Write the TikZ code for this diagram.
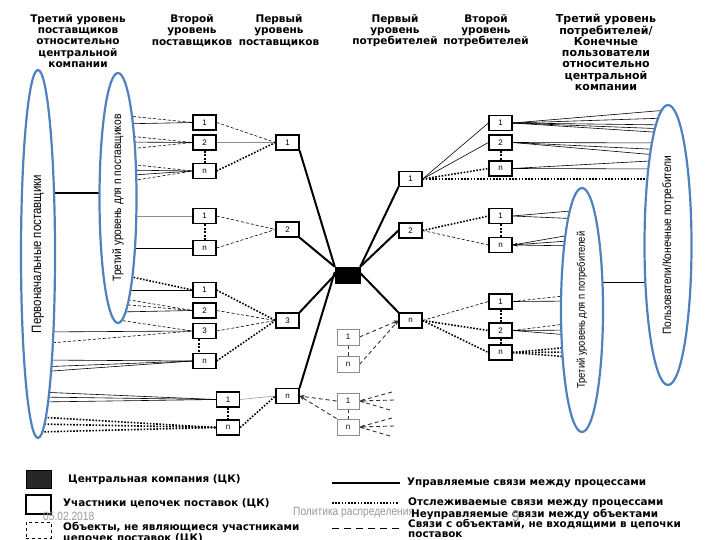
\documentclass[tikz,border=0pt]{standalone}
\usepackage{fontspec}
\setmainfont{Liberation Sans}
\newfontfamily\hdrfont{DejaVu Sans}
\newfontfamily\narrowfont[FakeStretch=0.85]{Liberation Sans}
\usetikzlibrary{shapes.geometric,arrows.meta,backgrounds}
\definecolor{ellblue}{RGB}{79,129,189}
\begin{document}
\begin{tikzpicture}[x=1pt,y=-1pt,
  bx/.style={draw, line width=1.2pt, fill=white, minimum width=23pt, minimum height=15pt, inner sep=0pt, font=\fontsize{8}{9}\selectfont},
  gbx/.style={draw=black!45, line width=0.9pt, fill=white, minimum width=22pt, minimum height=16pt, inner sep=0pt, font=\fontsize{8}{9}\selectfont},
  ell/.style={ellipse, draw=ellblue, line width=2.2pt, fill=white, inner sep=0pt, rotate=90},
  hdr/.style={font=\hdrfont\bfseries\fontsize{10.5}{11.3}\selectfont, align=center, inner sep=0pt},
  leg/.style={font=\hdrfont\bfseries\fontsize{10.4}{11}\selectfont, anchor=west, inner sep=0pt, align=left},
  foot/.style={font=\narrowfont\fontsize{12}{13}\selectfont, text=black!40, anchor=west, inner sep=0pt},
  ctl/.style={line width=2pt},
  sol/.style={line width=0.6pt},
  gsol/.style={line width=0.5pt, draw=black!45},
  dsh/.style={line width=0.6pt, dash pattern=on 3pt off 2pt},
  dtt/.style={line width=1.6pt, dash pattern=on 1.6pt off 1.6pt},
  vdt/.style={line width=2pt, dash pattern=on 2pt off 1.5pt},
  gdsh/.style={line width=0.9pt, dash pattern=on 4pt off 3pt, draw=black!80},
  tip/.style={-{Stealth[length=5pt,width=4pt]}}
]
\useasboundingbox (0,0) rectangle (720,540);

% headers
\node[hdr] (h1) at (78,41) {Третий уровень\\поставщиков\\относительно\\центральной\\компании};
\node[hdr] (h2) at (192,30.5) {Второй\\уровень\\поставщиков};
\node[hdr] (h3) at (279,30.5) {Первый\\уровень\\поставщиков};
\node[hdr] (h4) at (395,30.5) {Первый\\уровень\\потребителей};
\node[hdr] (h5) at (486,30.5) {Второй\\уровень\\потребителей};
\node[hdr, font=\hdrfont\bfseries\fontsize{11}{11.3}\selectfont] (h6) at (606,52.5) {Третий уровень\\потребителей/\\Конечные\\пользователи\\относительно\\центральной\\компании};

% ellipses
\node[ell, minimum width=368pt, minimum height=34pt, font=\narrowfont\fontsize{13.5}{14}\selectfont] (E1) at (38,254) {Первоначальные поставщики};
\node[ell, minimum width=250pt, minimum height=37pt, font=\narrowfont\fontsize{12}{13}\selectfont] (E2) at (118,198) {Третий уровень для n поставщиков};
\node[ell, minimum width=244pt, minimum height=42pt, font=\narrowfont\fontsize{11}{12}\selectfont] (E3) at (582,310) {Третий уровень для n потребителей};
\node[ell, minimum width=280pt, minimum height=47pt, font=\narrowfont\fontsize{12}{13}\selectfont] (E4) at (668,245) {Пользователи/Конечные потребители};

% left boxes
\node[bx] (L1a) at (204.5,122.5) {1};
\node[bx] (L2a) at (204.5,142.5) {2};
\node[bx] (Lna) at (204.5,171) {n};
\node[bx] (L1b) at (204.5,216) {1};
\node[bx] (Lnb) at (204.5,248) {n};
\node[bx] (L1c) at (204.5,290) {1};
\node[bx] (L2c) at (204.5,310.5) {2};
\node[bx] (L3c) at (204.5,331) {3};
\node[bx] (Lnc) at (204.5,361) {n};
\node[bx] (L1d) at (228,399.5) {1};
\node[bx] (Lnd) at (228,427.5) {n};
% first level suppliers
\node[bx] (S1) at (287.5,142.5) {1};
\node[bx] (S2) at (287.5,229.5) {2};
\node[bx] (S3) at (287.5,320.5) {3};
\node[bx] (Sn) at (287.5,396) {n};
% central
\node[draw, fill=black, minimum width=25pt, minimum height=16pt, inner sep=0pt] (C) at (347.5,275) {};
% first level consumers
\node[bx] (R1) at (410.5,179) {1};
\node[bx] (R2) at (410.5,230.5) {2};
\node[bx] (Rn) at (410.5,320.5) {n};
% second level consumers
\node[bx] (Q1a) at (500.5,123) {1};
\node[bx] (Q2a) at (500.5,142.5) {2};
\node[bx] (Qna) at (500.5,168.5) {n};
\node[bx] (Q1b) at (500.5,216) {1};
\node[bx] (Qnb) at (500.5,245) {n};
\node[bx] (Q1c) at (500.5,301.5) {1};
\node[bx] (Q2c) at (500.5,330.5) {2};
\node[bx] (Qnc) at (500.5,352.5) {n};
% non-participants
\node[gbx] (G1) at (348,337) {1};
\node[gbx] (Gn) at (348,364.5) {n};
\node[gbx] (G2a) at (348,401) {1};
\node[gbx] (G2n) at (348,427) {n};
\coordinate (fa1) at (392,392);
\coordinate (fa2) at (394,400);
\coordinate (fa3) at (390,410);
\coordinate (fn1) at (392,418);
\coordinate (fn2) at (394,426);
\coordinate (fn3) at (390,436);

% legend
\node[draw, fill=black!85, minimum width=25pt, minimum height=18pt, inner sep=0pt] (lgC) at (38.5,479) {};
\node[leg] (lgCt) at (68,480) {Центральная компания (ЦК)};
\node[draw, line width=1.2pt, fill=white, minimum width=25pt, minimum height=19pt, inner sep=0pt] (lgP) at (38.5,504.5) {};
\node[leg] (lgPt) at (63,503) {Участники цепочек поставок (ЦК)};
\node[draw, line width=0.9pt, dash pattern=on 3pt off 3pt, minimum width=25pt, minimum height=16pt, inner sep=0pt] (lgO) at (38.5,530) {};
\node[leg, anchor=north west] (lgOt) at (63,522) {Объекты, не являющиеся участниками\\цепочек поставок (ЦК)};
\coordinate (ls1) at (332,483); \coordinate (ls2) at (400,483);
\coordinate (ld1) at (332,503); \coordinate (ld2) at (398,503);
\coordinate (lq1) at (332,528); \coordinate (lq2) at (400,528);
\node[foot] (ft1) at (43,516) {05.02.2018};
\node[foot] (ft2) at (293,513) {Политика распределения};
\node[leg] (lgSt) at (407,483) {Управляемые связи между процессами};
\node[leg] (lgDt) at (408,503) {Отслеживаемые связи между процессами};
\node[leg] (lgUt) at (411,514) {Неуправляемые связи между объектами};
\node[leg, anchor=north west, font=\hdrfont\bfseries\fontsize{10.4}{10.3}\selectfont] (lgQt) at (408,519) {Связи с объектами, не входящими в цепочки\\поставок};
\node[font=\narrowfont\fontsize{16}{16}\selectfont, text=black!45, inner sep=0pt] (pg) at (516,516) {9};
\draw[ctl] (ls1) -- (ls2);
\draw[dtt, line width=1.3pt] (ld1) -- (ld2);
\draw[line width=1pt, dash pattern=on 7pt off 5pt] (lq1) -- (lq2);

\begin{pgfonlayer}{background}
% ellipse interconnections
\draw[line width=1.5pt] (E1.center |- 0,193) -- (E2.center |- 0,193);
\draw[sol] (E3.center |- 0,282) -- (E4.center |- 0,282);
% group 1
\draw[dsh] (118,115) -- (L1a.west);
\draw[sol] (118,124) -- (L1a.west);
\draw[dsh] (118,135) -- (L2a.west);
\draw[sol] (118,142) -- (L2a.west);
\draw[dsh] (118,150) -- (L2a.west);
\draw[dsh] (118,163) -- (Lna.west);
\draw[sol] (118,170) -- (Lna.west);
\draw[sol] (118,176) -- (Lna.west);
\draw[dsh] (118,183) -- (Lna.west);
\draw[dsh] (L1a.east) -- (S1.west);
\draw[gsol] (L2a.east) -- (S1.west);
\draw[dtt] (Lna.east) -- (S1.west);
\draw[vdt] (L2a.south) -- (Lna.north);
% group 2
\draw[gsol] (118,216) -- (L1b.west);
\draw[sol] (118,248) -- (Lnb.west);
\draw[dsh] (L1b.east) -- (S2.west);
\draw[dsh] (Lnb.east) -- (S2.west);
\draw[vdt] (L1b.south) -- (Lnb.north);
% group 3
\draw[dtt] (118,274) -- (L1c.west);
\draw[sol] (118,290) -- (L1c.west);
\draw[dsh] (118,298) -- (L2c.west);
\draw[dsh] (118,304) -- (L2c.west);
\draw[sol] (118,312) -- (L2c.west);
\draw[dsh] (118,320) -- (L3c.west);
\draw[sol] (38,332) -- (L3c.west);
\draw[dsh] (38,344) -- (L3c.west);
\draw[sol] (38,360) -- (Lnc.west);
\draw[sol] (38,367) -- (Lnc.west);
\draw[sol] (38,372) -- (Lnc.west);
\draw[dtt] (L1c.east) -- (S3.west);
\draw[dsh] (L2c.east) -- (S3.west);
\draw[dsh] (L3c.east) -- (S3.west);
\draw[dtt] (Lnc.east) -- (S3.west);
\draw[vdt] ([xshift=-6pt]L3c.south) -- ([xshift=-6pt]Lnc.north);
% group 4
\draw[sol] (38,392) -- (L1d.west);
\draw[sol] (38,397) -- (L1d.west);
\draw[sol] (38,402) -- (L1d.west);
\draw[dtt] (38,417) -- (Lnd.west);
\draw[dtt] (38,424) -- (Lnd.west);
\draw[dtt] (38,432) -- (Lnd.west);
\draw[gsol] (L1d.east) -- (Sn.west);
\draw[dtt] (Lnd.east) -- (Sn.west);
\draw[vdt] (L1d.south) -- (Lnd.north);
% central links
\draw[ctl] (S1.south east) -- (C.north west);
\draw[ctl] (S2.south east) -- (C.north west);
\draw[ctl] (S3.north east) -- (C.west);
\draw[ctl] (Sn.north east) -- ([yshift=3pt]C.west);
\draw[ctl] (R1.south west) -- (C.north east);
\draw[ctl] (R2.west) -- (C.north east);
\draw[ctl] (Rn.north west) -- ([yshift=2pt]C.east);
% right group 1
\draw[sol] (R1.east) -- (Q1a.west);
\draw[sol] (R1.east) -- (Q2a.west);
\draw[dtt] (R1.east) -- (Qna.west);
\draw[dtt] (R1.east) -- (E4.center |- R1.east);
\draw[vdt] (Q2a.south) -- (Qna.north);
\draw[sol] (Q1a.east) -- (668,110);
\draw[sol] (Q1a.east) -- (668,118);
\draw[sol] (Q1a.east) -- (668,125);
\draw[sol] (Q1a.east) -- (668,129);
\draw[sol] (Q1a.east) -- (668,133);
\draw[sol] (Q2a.east) -- (668,143);
\draw[sol] (Q2a.east) -- (668,150);
\draw[sol] (Q2a.east) -- (668,156);
\draw[sol] (Qna.east) -- (668,160);
\draw[sol] (Qna.east) -- (668,169);
% right group 2
\draw[dtt] (R2.east) -- (Q1b.west);
\draw[dsh] (R2.east) -- (Qnb.west);
\draw[vdt] (Q1b.south) -- (Qnb.north);
\draw[sol] (Q1b.east) -- (582,210);
\draw[sol] (Q1b.east) -- (582,219);
\draw[sol] (582,233) -- (Qnb.east);
\draw[sol, tip] (582,240) -- (Qnb.east);
\draw[sol] (582,246) -- (Qnb.east);
% right group 3
\draw[dsh] (Rn.east) -- (Q1c.west);
\draw[dtt] (Rn.east) -- (Q2c.west);
\draw[dtt] (Rn.east) -- (Qnc.west);
\draw[vdt] (Q1c.south) -- (Q2c.north);
\draw[vdt] (Q2c.south) -- (Qnc.north);
\draw[dsh] (Q1c.east) -- (582,294);
\draw[sol] (Q1c.east) -- (582,301);
\draw[dsh] (Q2c.east) -- (582,322);
\draw[sol] (Q2c.east) -- (582,330);
\draw[sol] (Q2c.east) -- (582,336);
\draw[dtt] (Qnc.east) -- (582,346);
\draw[dtt] (Qnc.east) -- (582,352);
\draw[dtt] (Qnc.east) -- (582,358);
% non-participants
\draw[gdsh, tip] (G1.east) -- (Rn.west);
\draw[gdsh, tip] (Gn.east) -- (Rn.west);
\draw[gdsh, line width=0.6pt] (G1.south) -- (Gn.north);
\draw[gdsh, tip] (G2a.west) -- (Sn.east);
\draw[gdsh, tip] (G2n.north west) -- (Sn.east);
\draw[gdsh, line width=0.6pt] (G2a.south) -- (G2n.north);
\draw[gdsh] (fa1) -- (G2a.east);
\draw[gdsh, tip] (fa2) -- (G2a.east);
\draw[gdsh] (fa3) -- (G2a.east);
\draw[gdsh] (fn1) -- (G2n.east);
\draw[gdsh, tip] (fn2) -- (G2n.east);
\draw[gdsh] (fn3) -- (G2n.east);
\end{pgfonlayer}
\end{tikzpicture}
\end{document}
